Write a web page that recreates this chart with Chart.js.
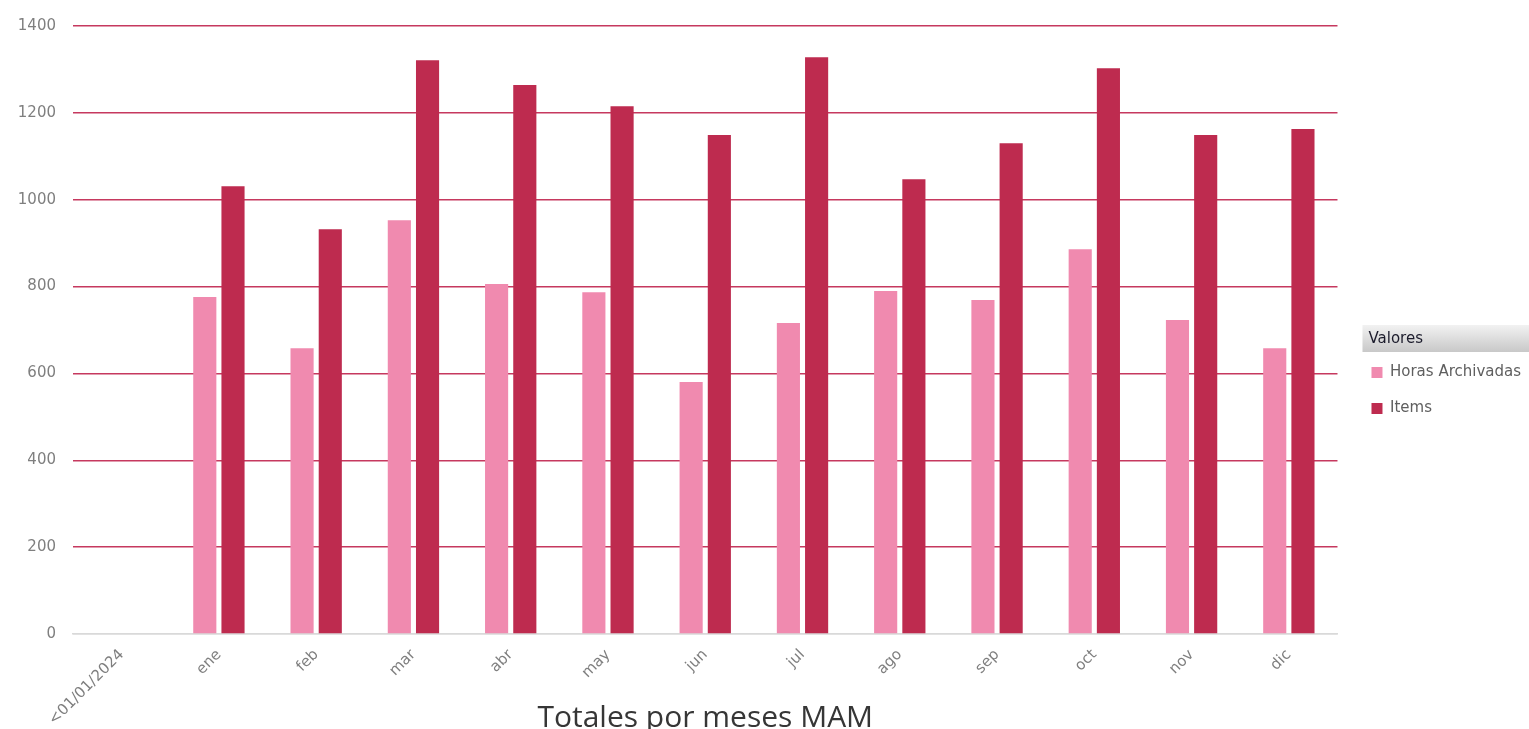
<!DOCTYPE html>
<html>
<head>
<meta charset="utf-8">
<script src="https://cdn.jsdelivr.net/npm/chart.js@4/dist/chart.umd.min.js"></script>
<style>
  html, body { margin: 0; padding: 0; background: #fff; }
  #wrap { width: 1529px; height: 729px; position: relative; }
</style>
</head>
<body>
<div id="wrap"><canvas id="chart"></canvas></div>
<script>
// data
const months = ["<01/01/2024", "ene", "feb", "mar", "abr", "may", "jun", "jul", "ago", "sep", "oct", "nov", "dic"];
const horasArchivadas = [null, 776, 658, 953, 806, 787, 580, 716, 790, 769, 886, 723, 658];
const items = [null, 1031, 932, 1321, 1264, 1215, 1149, 1328, 1047, 1130, 1303, 1149, 1163];
const yTicks = [0, 200, 400, 600, 800, 1000, 1200, 1400];
const legendTitle = "Valores";

const PINK = "#f08aaf";
const CRIMSON = "#be2b4f";
const LEGEND_SHIFT = 13; // legend sits a bit right of the plot edge

// gray gradient header for the legend ("Valores"), drawn above the items
const legendHeader = {
  id: "legendHeader",
  afterLayout(chart) {
    const lg = chart.legend;
    lg.left += LEGEND_SHIFT;
    lg.right += LEGEND_SHIFT;
  },
  afterDraw(chart) {
    const lg = chart.legend;
    const first = lg.legendHitBoxes[0];
    if (!first) return;
    const ctx = chart.ctx;
    const x0 = first.left - 9;
    const y0 = first.top - 40;
    const h = 27;
    ctx.save();
    const g = ctx.createLinearGradient(0, y0, 0, y0 + h);
    g.addColorStop(0, "#f2f2f2");
    g.addColorStop(1, "#c8c8c8");
    ctx.fillStyle = g;
    ctx.fillRect(x0, y0, chart.width - x0, h);
    ctx.fillStyle = "#1c1c2c";
    ctx.font = "15px 'DejaVu Sans'";
    ctx.textBaseline = "middle";
    ctx.fillText(legendTitle, x0 + 6, y0 + h / 2 + 1);
    ctx.restore();
  },
};

const ctx = document.getElementById("chart");
new Chart(ctx, {
  type: "bar",
  data: {
    labels: months,
    datasets: [
      {
        label: "Horas Archivadas",
        data: horasArchivadas,
        backgroundColor: PINK,
        barPercentage: 0.82,
        categoryPercentage: 0.58,
      },
      {
        label: "Items",
        data: items,
        backgroundColor: CRIMSON,
        barPercentage: 0.82,
        categoryPercentage: 0.58,
      },
    ],
  },
  plugins: [legendHeader],
  options: {
    responsive: true,
    maintainAspectRatio: false,
    animation: false,
    layout: {
      padding: { left: 18, top: 25, right: 11, bottom: 0 },
    },
    plugins: {
      tooltip: { enabled: false },
      legend: {
        position: "right",
        align: "center",
        title: {
          // space is kept here, the header itself is drawn by legendHeader
          display: true,
          text: legendTitle,
          color: "rgba(0,0,0,0)",
          font: { family: "DejaVu Sans", size: 15 },
          padding: { top: 0, bottom: 9 },
        },
        labels: {
          boxWidth: 11,
          boxHeight: 11,
          padding: 21,
          color: "#5f5f5f",
          font: { family: "DejaVu Sans", size: 15 },
        },
      },
      title: {
        display: true,
        position: "bottom",
        fullSize: false,
        text: "Totales por meses MAM",
        color: "#363636",
        font: { family: "Open Sans", size: 30, weight: "normal" },
        padding: { top: 0, bottom: -7 },
      },
    },
    scales: {
      x: {
        grid: { display: false },
        border: { color: "#d9d9d9", width: 1.5 },
        ticks: {
          color: "#7f7f7f",
          font: { family: "DejaVu Sans", size: 15 },
          minRotation: 45,
          maxRotation: 45,
          padding: 4,
        },
        afterFit(scale) {
          scale.height = 66;
          scale.paddingLeft = 0;
          scale.paddingRight = 0;
          scale._computeLabelArea = () => undefined; // let long labels run into the title band
        },
      },
      y: {
        min: 0,
        max: 1400,
        border: { display: false },
        grid: {
          drawTicks: false,
          lineWidth: 1.5,
          color: (c) => (c.tick && c.tick.value === 0 ? "#d9d9d9" : "#c6395f"),
        },
        afterBuildTicks(scale) {
          scale.ticks = yTicks.map((v) => ({ value: v }));
        },
        afterFit(scale) {
          scale.width = 55;
        },
        ticks: {
          color: "#7f7f7f",
          font: { family: "DejaVu Sans", size: 15 },
          padding: 17,
          callback: (val) => String(val),
        },
      },
    },
  },
});
</script>
</body>
</html>
